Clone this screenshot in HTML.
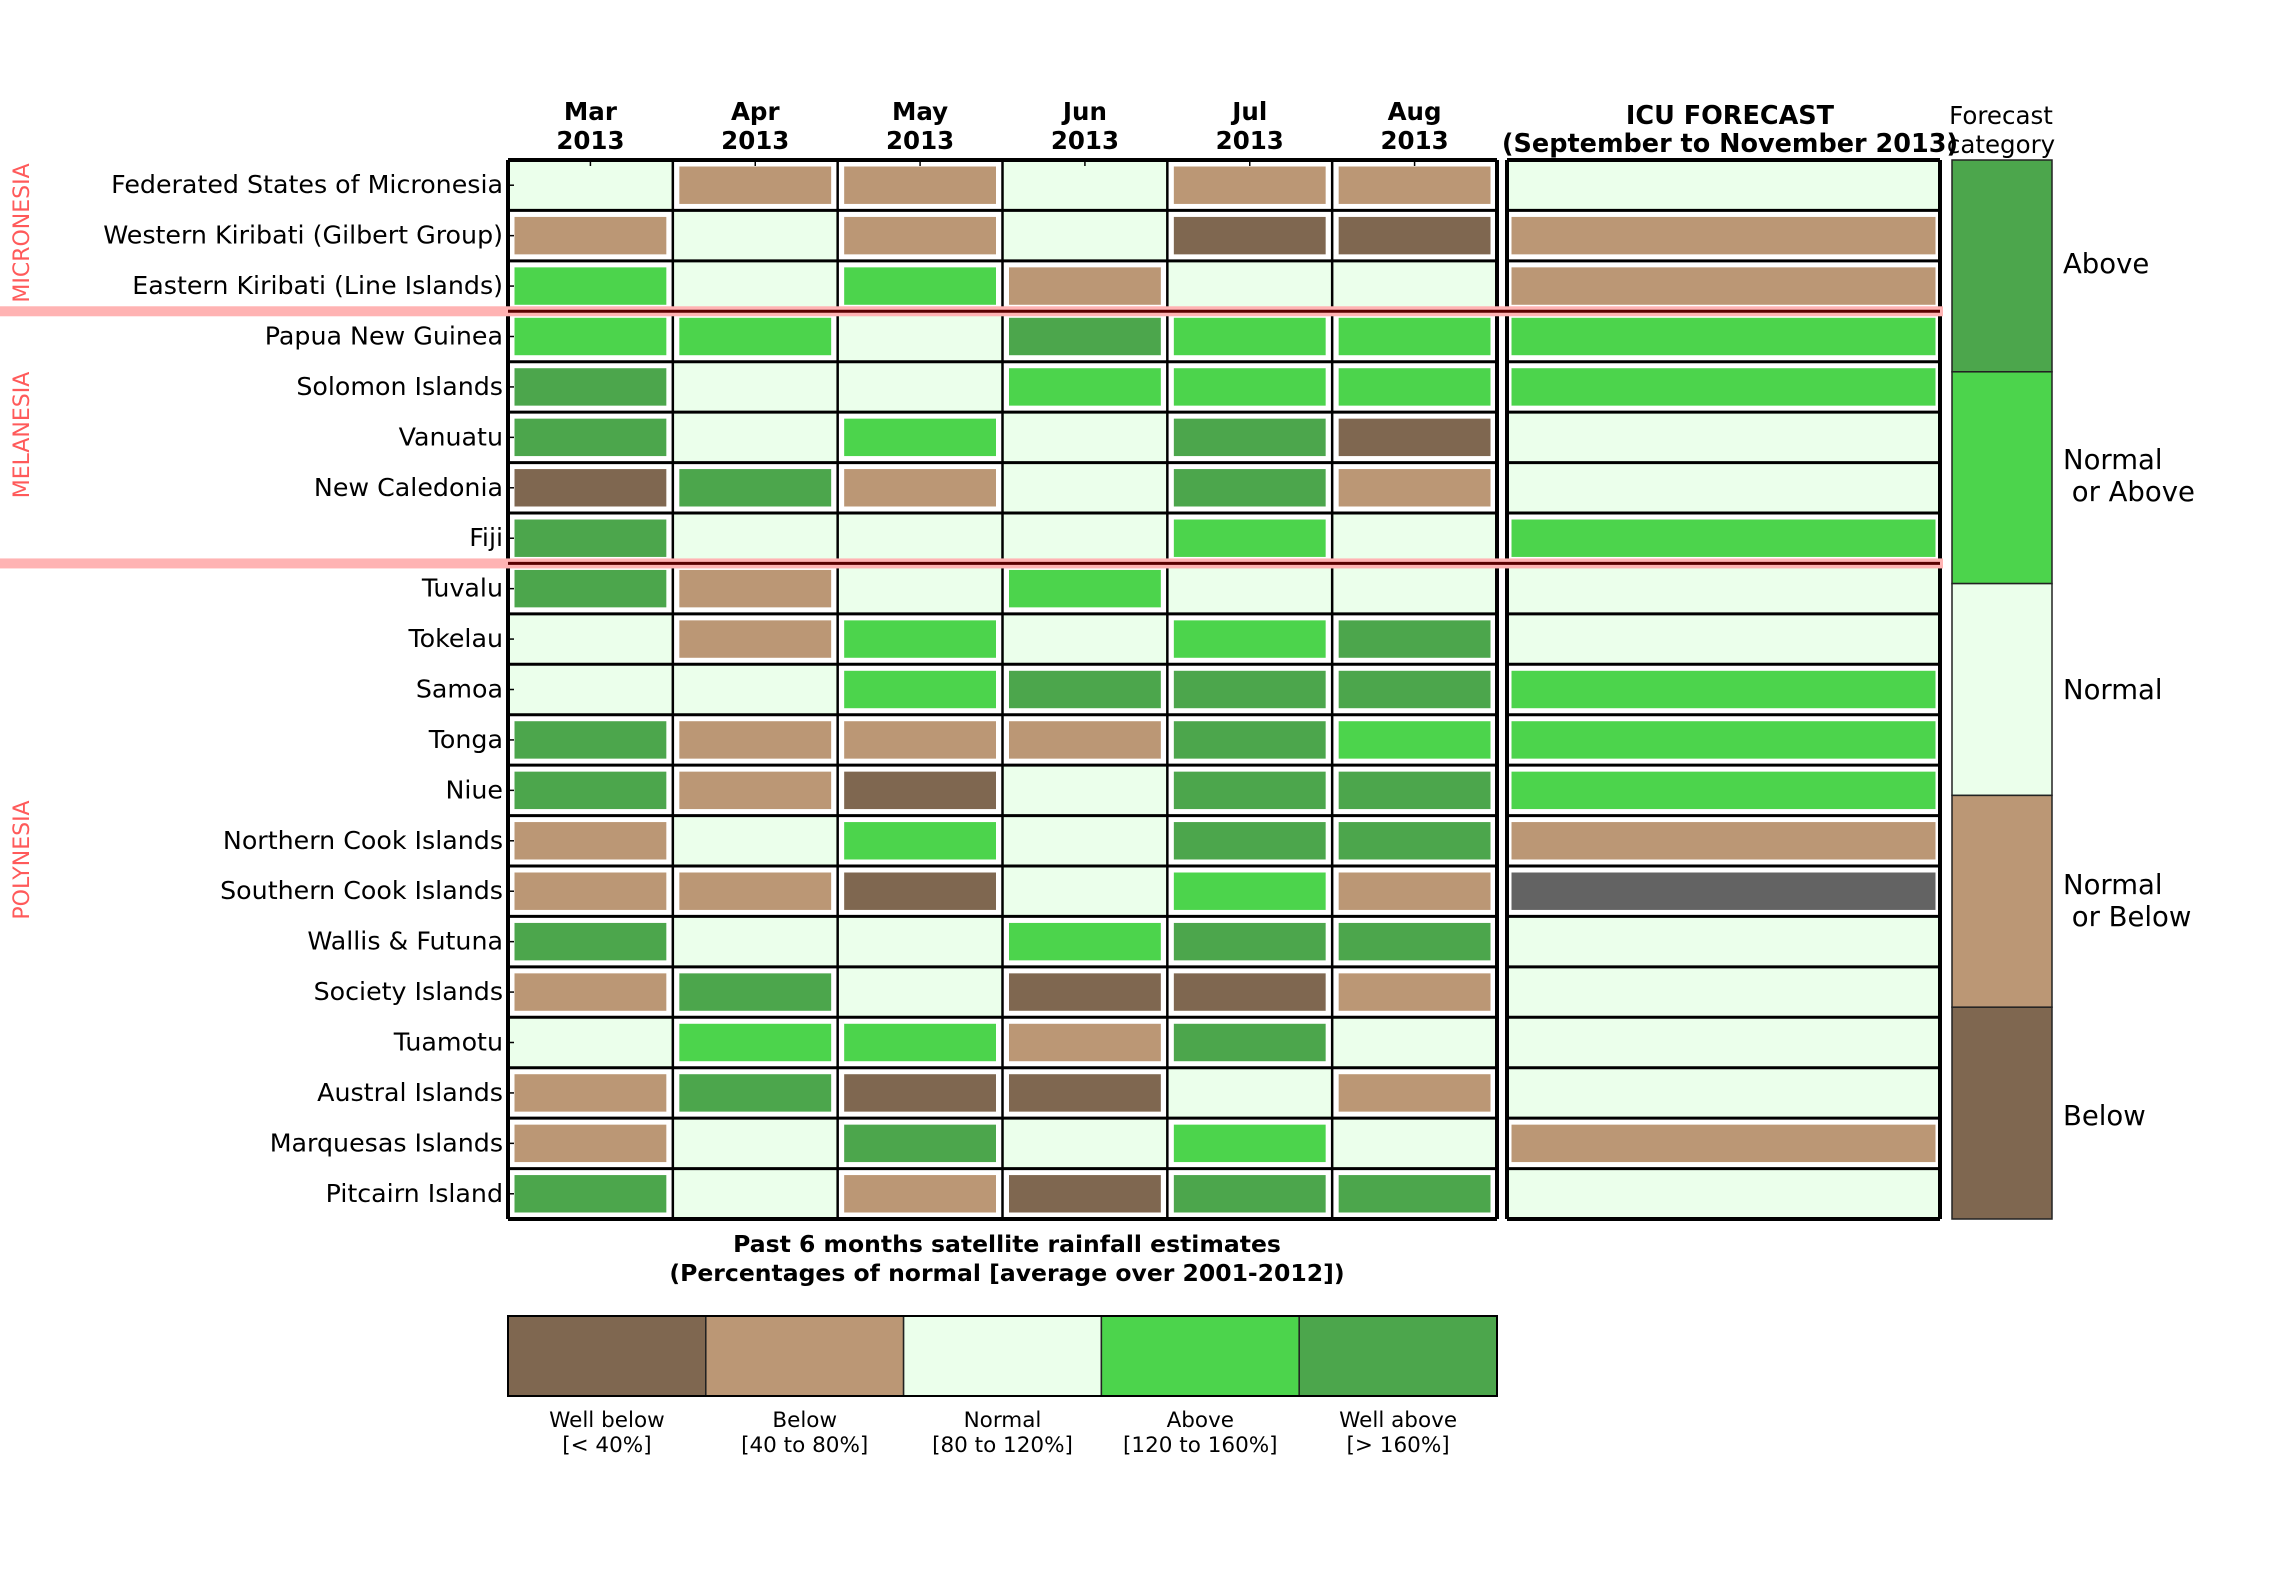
<!DOCTYPE html>
<html><head><meta charset="utf-8"><style>html,body{margin:0;padding:0;background:#fff}svg{display:block}</style></head>
<body>
<svg id="s" width="2280" height="1596" xmlns="http://www.w3.org/2000/svg" font-family="DejaVu Sans, Liberation Sans, sans-serif"></svg>
<script>
const C={0:'#7f6750',1:'#bb9775',2:'#ebffeb',3:'#4cd44c',4:'#4ca64c',5:'#636363'};
const rows=[
["Federated States of Micronesia",[2,1,1,2,1,1],2],
["Western Kiribati (Gilbert Group)",[1,2,1,2,0,0],1],
["Eastern Kiribati (Line Islands)",[3,2,3,1,2,2],1],
["Papua New Guinea",[3,3,2,4,3,3],3],
["Solomon Islands",[4,2,2,3,3,3],3],
["Vanuatu",[4,2,3,2,4,0],2],
["New Caledonia",[0,4,1,2,4,1],2],
["Fiji",[4,2,2,2,3,2],3],
["Tuvalu",[4,1,2,3,2,2],2],
["Tokelau",[2,1,3,2,3,4],2],
["Samoa",[2,2,3,4,4,4],3],
["Tonga",[4,1,1,1,4,3],3],
["Niue",[4,1,0,2,4,4],3],
["Northern Cook Islands",[1,2,3,2,4,4],1],
["Southern Cook Islands",[1,1,0,2,3,1],5],
["Wallis & Futuna",[4,2,2,3,4,4],2],
["Society Islands",[1,4,2,0,0,1],2],
["Tuamotu",[2,3,3,1,4,2],2],
["Austral Islands",[1,4,0,0,2,1],2],
["Marquesas Islands",[1,2,4,2,3,2],1],
["Pitcairn Island",[4,2,1,0,4,4],2]];
const X0=508,X1=1497,Y0=160,Y1=1219,RH=(Y1-Y0)/21,CW=(X1-X0)/6,FX0=1507,FX1=1940;
let h='';
rows.forEach((r,i)=>{
 const y=Y0+i*RH;
 r[1].forEach((v,j)=>{const x=X0+j*CW;
  if(v==2)h+=`<rect x="${x}" y="${y}" width="${CW}" height="${RH}" fill="${C[2]}"/>`;
  else h+=`<rect x="${x+5}" y="${y+5}" width="${CW-10}" height="${RH-10}" fill="${C[v]}" stroke="#fff" stroke-width="3"/>`;});
 const v=r[2];
 if(v==2)h+=`<rect x="${FX0}" y="${y}" width="${FX1-FX0}" height="${RH}" fill="${C[2]}"/>`;
 else h+=`<rect x="${FX0+3}" y="${y+5}" width="${FX1-FX0-6}" height="${RH-10}" fill="${C[v]}" stroke="#fff" stroke-width="3"/>`;
 h+=`<text x="503" y="${y+RH/2+8}" font-size="25.3" text-anchor="end">${r[0].replace('&','&amp;')}</text>`;
 h+=`<line x1="${X0}" y1="${y+RH/2}" x2="${X0+6}" y2="${y+RH/2}" stroke="#000" stroke-width="1.5"/>`;
});
for(let i=0;i<=21;i++){const y=Y0+i*RH;const w=(i==0||i==21)?4:3;
 h+=`<line x1="${X0}" y1="${y}" x2="${X1}" y2="${y}" stroke="#000" stroke-width="${w}"/>`;
 h+=`<line x1="${FX0}" y1="${y}" x2="${FX1}" y2="${y}" stroke="#000" stroke-width="${w}"/>`;}
for(let j=0;j<=6;j++){const x=X0+j*CW;h+=`<line x1="${x}" y1="${Y0}" x2="${x}" y2="${Y1}" stroke="#000" stroke-width="${(j==0||j==6)?4:2.5}"/>`;}
h+=`<line x1="${FX0}" y1="${Y0}" x2="${FX0}" y2="${Y1}" stroke="#000" stroke-width="4"/><line x1="${FX1}" y1="${Y0}" x2="${FX1}" y2="${Y1}" stroke="#000" stroke-width="4"/>`;
[Y0+3*RH,Y0+8*RH].forEach(y=>{h+=`<rect x="0" y="${y-5}" width="${FX1+3}" height="10" fill="#ffb3b3"/><line x1="${X0}" y1="${y}" x2="${FX1}" y2="${y}" stroke="#5a0000" stroke-width="3"/>`;});
[["MICRONESIA",233],["MELANESIA",435],["POLYNESIA",860]].forEach(([t,y])=>{h+=`<text transform="translate(29,${y}) rotate(-90)" font-size="22" fill="#ff5a5a" text-anchor="middle">${t}</text>`;});
["Mar","Apr","May","Jun","Jul","Aug"].forEach((m,j)=>{const x=X0+j*CW+CW/2;
 h+=`<text x="${x}" y="120" font-size="24.5" font-weight="bold" text-anchor="middle">${m}</text><text x="${x}" y="149" font-size="24.5" font-weight="bold" text-anchor="middle">2013</text>`;
 h+=`<line x1="${x}" y1="${Y0}" x2="${x}" y2="${Y0+6}" stroke="#000" stroke-width="1.5"/>`;});
h+=`<text x="1730" y="124" font-size="25.5" font-weight="bold" text-anchor="middle">ICU FORECAST</text><text x="1730" y="152" font-size="25.5" font-weight="bold" text-anchor="middle">(September to November 2013)</text>`;
h+=`<text x="2001" y="124" font-size="24.5" text-anchor="middle">Forecast</text><text x="2001" y="153" font-size="24.5" text-anchor="middle">category</text>`;
const cat=[4,3,2,1,0],BH=(Y1-Y0)/5;
cat.forEach((v,i)=>{h+=`<rect x="1952" y="${Y0+i*BH}" width="100" height="${BH}" fill="${C[v]}" stroke="#222" stroke-width="1.5"/>`;});
[["Above",273],["Normal",469],[" or Above",501],["Normal",699],["Normal",894],[" or Below",926],["Below",1125]].forEach(([t,y])=>{h+=`<text x="2063" y="${y}" font-size="27.5" xml:space="preserve">${t}</text>`;});
h+=`<text x="1007" y="1252" font-size="23.5" font-weight="bold" text-anchor="middle">Past 6 months satellite rainfall estimates</text><text x="1007" y="1281" font-size="23.5" font-weight="bold" text-anchor="middle">(Percentages of normal [average over 2001-2012])</text>`;
const lw=(X1-X0)/5;
[[0,"Well below","[&lt; 40%]"],[1,"Below","[40 to 80%]"],[2,"Normal","[80 to 120%]"],[3,"Above","[120 to 160%]"],[4,"Well above","[&gt; 160%]"]].forEach(([v,a,b],i)=>{const x=X0+i*lw;
 h+=`<rect x="${x}" y="1316" width="${lw}" height="80" fill="${C[v]}" stroke="#222" stroke-width="1.5"/>`;
 h+=`<text x="${x+lw/2}" y="1427" font-size="21.5" text-anchor="middle">${a}</text><text x="${x+lw/2}" y="1452" font-size="21.5" text-anchor="middle">${b}</text>`;});
h+=`<rect x="${X0}" y="1316" width="${X1-X0}" height="80" fill="none" stroke="#000" stroke-width="2"/>`;
document.getElementById('s').innerHTML=h;
</script>
</body></html>
